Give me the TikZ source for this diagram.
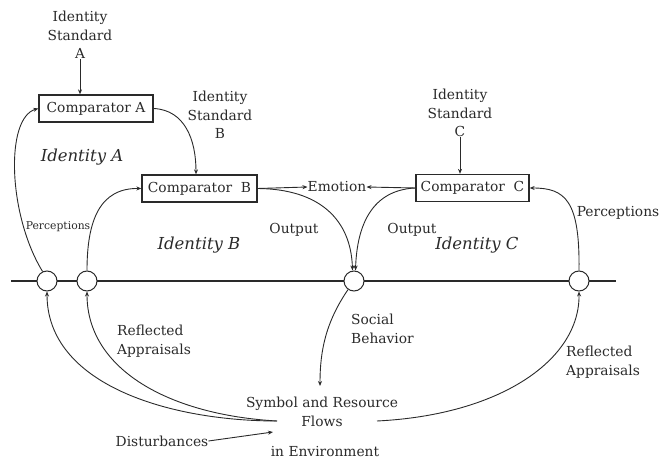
\documentclass[tikz,border=0pt]{standalone}
\usepackage{fontspec}
\setmainfont{DejaVu Serif}
\usetikzlibrary{arrows.meta,calc}
\definecolor{ink}{HTML}{2A2A2A}
\begin{document}
\begin{tikzpicture}[x=1pt,y=-1pt,
  every node/.style={text=ink,font=\fontsize{13.8}{18.5}\selectfont,inner sep=0pt},
  comp/.style={draw=ink,line width=1.3pt,minimum height=27pt,inner xsep=4pt},
  lab/.style={align=center},
  ital/.style={font=\fontsize{16.5}{18}\selectfont\itshape},
  circ/.style={circle,draw=ink,fill=white,line width=1pt,minimum size=20pt},
  conn/.style={draw=ink,line width=0.9pt,-{Stealth[length=5pt,width=4pt]}},
  plain/.style={draw=ink,line width=0.9pt}]
\useasboundingbox (0,0) rectangle (659,462);
% baseline
\coordinate (L) at (11,281);
\coordinate (R) at (616,281);
\draw[plain,line width=1.1pt] (L) -- (R);
% circles
\node[circ] (cA) at (47,281) {};
\node[circ] (cB) at (87,281) {};
\node[circ] (cM) at (354,281) {};
\node[circ] (cR) at (579,281) {};
% comparators
\node[comp,minimum width=114pt] (compA) at (96,108.5) {Comparator A};
\node[comp,minimum width=115pt] (compB) at (199.5,188.5) {Comparator\ \ B};
\node[comp,minimum width=113pt] (compC) at (472.5,188) {Comparator\ \ C};
% standards
\node[lab] (stdA) at (80,35) {Identity\\Standard\\A};
\node[lab] (stdB) at (220,115) {Identity\\Standard\\B};
\node[lab] (stdC) at (460,113) {Identity\\Standard\\C};
\node (emo) at (337,187) {Emotion};
% italic identity labels
\node[ital] (idA) at (82,157) {Identity A};
\node[ital] (idB) at (199,245) {Identity B};
\node[ital] (idC) at (477,245) {Identity C};
% other labels
\node (outB) at (294,230) {Output};
\node (outC) at (412,230) {Output};
\node[font=\fontsize{10.8}{12}\selectfont] (percA) at (58,227) {Perceptions};
\node (percC) at (618,213) {Perceptions};
\node[align=left,anchor=west] (soc) at (351,329) {Social\\Behavior};
\node[align=left,anchor=west] (rfA) at (117,341) {Reflected\\Appraisals};
\node[align=left,anchor=west] (rfC) at (566,362) {Reflected\\Appraisals};
\node[lab] (flows) at (322,412) {Symbol and Resource\\Flows};
\node (env) at (325,452) {in Environment};
\node (dist) at (162,441) {Disturbances};
% connector end points near flows
\coordinate (fL) at (277,421);
\coordinate (fR) at (377,421);
\coordinate (fD) at (273,432);
\coordinate (fT) at (320,386);
% standard arrows
\draw[conn] (stdA.south) -- (stdA.south |- compA.north);
\draw[conn] (stdC.south) -- (stdC.south |- compC.north);
% comparator A to comparator B
\draw[conn] (compA.east) .. controls (185,110) and (196,140) .. ($(compB.north)+(-3.5,0)$);
% emotion
\draw[conn] (compB.east) -- (emo.west);
\draw[conn] (compC.west) -- (emo.east);
% perceptions
\draw[conn] (cA.115) .. controls (8,215) and (5,118) .. (compA.west);
\draw[conn] (cB.north) .. controls (87,220) and (100,188) .. (compB.west);
\draw[conn] (cR.north) .. controls (580,200) and (565,188) .. (compC.east);
% outputs
\draw[conn] (compB.east) .. controls (320,189) and (351,220) .. ($(cM.north)+(-1.5,0)$);
\draw[conn] (compC.west) .. controls (372,190) and (357,225) .. ($(cM.north)+(1.5,0)$);
% social behavior
\draw[conn] (cM.235) .. controls (326,322) and (320,350) .. (fT);
% reflected appraisals and perceptions from environment
\draw[conn] (fL) .. controls (170,421) and (47,385) .. (cA.south);
\draw[conn] (fL) .. controls (170,415) and (87,370) .. (cB.south);
\draw[conn] (fR) .. controls (500,415) and (580,360) .. (cR.south);
% disturbances
\draw[conn] (dist.east) -- (fD);
\end{tikzpicture}
\end{document}
